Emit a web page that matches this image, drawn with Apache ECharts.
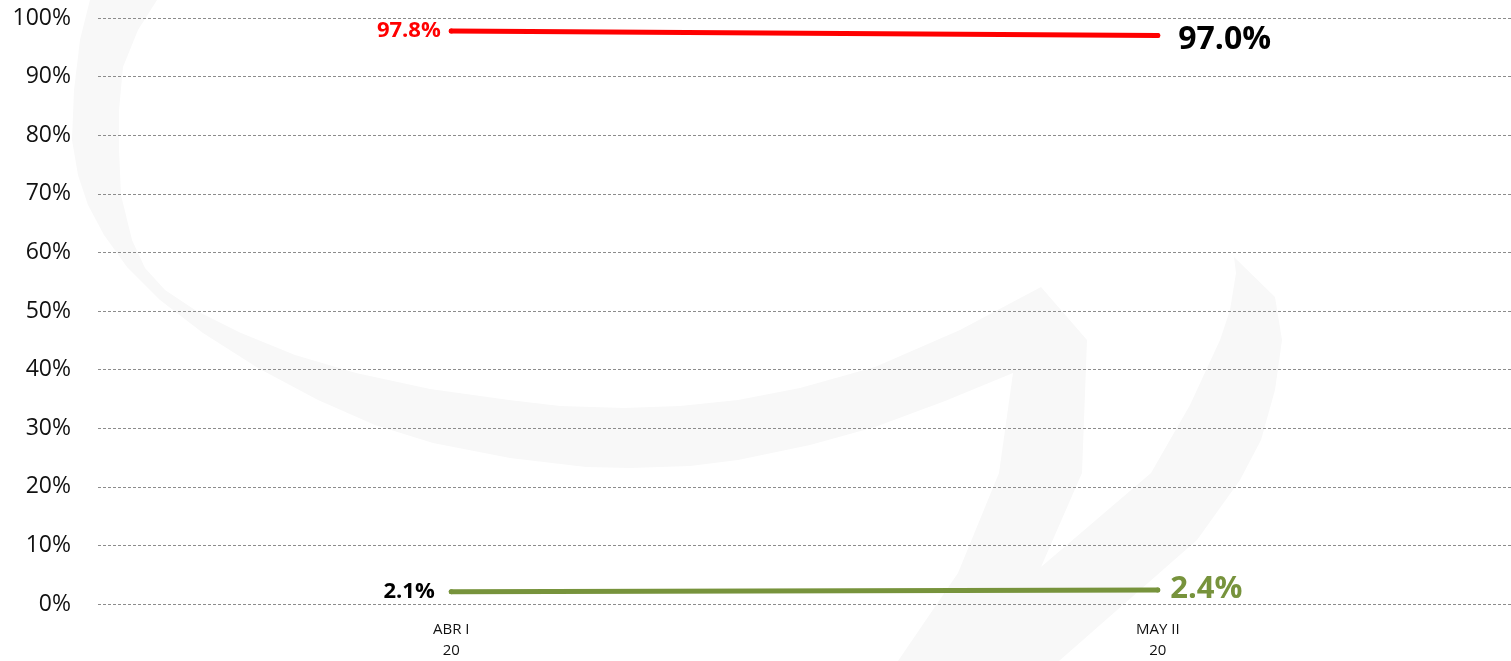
<!DOCTYPE html>
<html><head><meta charset="utf-8">
<script src="https://cdn.jsdelivr.net/npm/echarts@6/dist/echarts.min.js"></script>
<style>html,body{margin:0;padding:0;background:#fff}#c{width:1511px;height:661px}</style>
</head><body><div id="c"></div>
<script>
const categories = ['ABR I\n20', 'MAY II\n20'];
const redValues = [97.8, 97.0];
const greenValues = [2.1, 2.4];
const yTicks = [0, 10, 20, 30, 40, 50, 60, 70, 80, 90, 100];

// faint background watermark (decoration only)
const watermark = [[90,0],[80,40],[74,90],[72,140],[78,175],[88,205],[104,235],[127,267],[160,300],[203,333],[258,368],[318,400],[375,425],[433,443],[510,458],[586,467],[630,468],
  [690,466],[738,460],[810,445],[875,427],[945,401],[1013,373],[999,473],[958,573],[898,661],[1059,661],
  [1197,540],[1240,480],[1261,440],[1275,390],[1282,340],[1275,297],[1234,257],
  [1236,273],[1230,310],[1220,340],[1190,405],[1151,473],[1041,567],[1082,473],[1087,340],[1041,287],
  [960,330],[875,367],[800,388],[738,400],[680,406],[624,408],[560,406],[509,400],[430,389],[356,373],[295,355],[241,333],[195,310],[165,290],[145,268],[132,240],[121,195],[119,150],[119,110],[123,67],[138,30],[157,0]];

const font = '"Open Sans", "Noto Sans", sans-serif';
const chart = echarts.init(document.getElementById('c'));
function mkData(vals, leftStyle, rightStyle) {
  return vals.map((v, i) => ({
    value: v,
    label: Object.assign({ show: true, formatter: p => p.value.toFixed(1) + '%', fontFamily: font, fontWeight: 'bold' },
      i === 0 ? leftStyle : rightStyle)
  }));
}
chart.setOption({
  animation: false,
  graphic: [{ type: 'polygon', z: -10, silent: true, shape: { points: watermark }, style: { fill: '#f8f8f8' } }],
  grid: { left: 98, right: -3, top: 18, bottom: 54 },
  xAxis: {
    type: 'category', data: categories, boundaryGap: true,
    axisLine: { show: false }, axisTick: { show: false },
    axisLabel: { fontFamily: font, fontSize: 15, color: '#111', lineHeight: 21, margin: 15 }
  },
  yAxis: {
    type: 'value', min: 0, max: 100, interval: 10,
    axisLabel: { formatter: v => yTicks.includes(v) ? v + '%' : '', fontFamily: font, fontSize: 23, color: '#111', margin: 27 },
    axisLine: { show: false }, axisTick: { show: false },
    splitLine: { lineStyle: { type: [3, 2], color: '#8c8c8c', width: 1 } }
  },
  series: [
    {
      type: 'line', data: mkData(redValues,
        { position: 'left', color: '#ff0000', fontSize: 22, distance: 8 },
        { position: 'right', color: '#000', fontSize: 32, distance: 18, offset: [0, 4] }),
      symbol: 'circle', symbolSize: 5, lineStyle: { color: '#ff0000', width: 5, cap: 'round' }, itemStyle: { color: '#ff0000' }
    },
    {
      type: 'line', data: mkData(greenValues,
        { position: 'left', color: '#000', fontSize: 22, distance: 14 },
        { position: 'right', color: '#77933c', fontSize: 31, distance: 10, offset: [0, -1] }),
      symbol: 'circle', symbolSize: 5, lineStyle: { color: '#77933c', width: 5, cap: 'round' }, itemStyle: { color: '#77933c' }
    }
  ]
});
</script></body></html>
